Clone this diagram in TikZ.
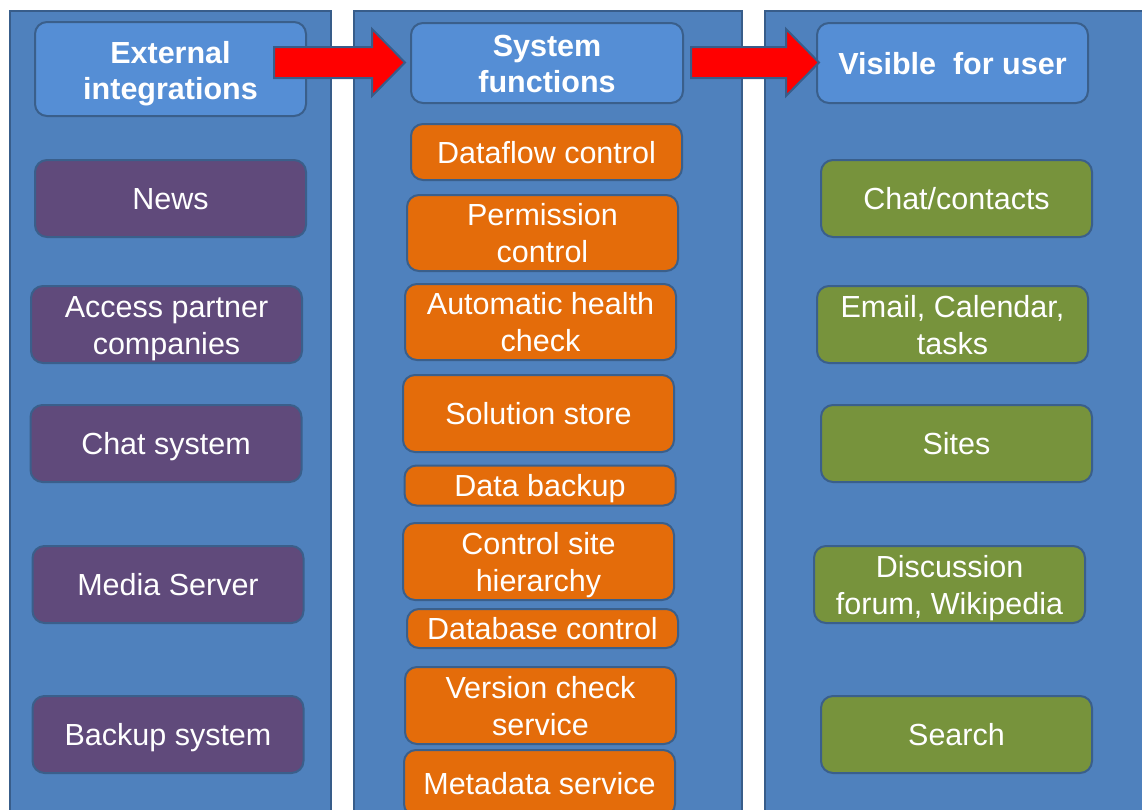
\documentclass[tikz,border=0pt]{standalone}
\usepackage{fontspec}
\setmainfont{Liberation Sans}
\usetikzlibrary{calc}
\definecolor{panelfill}{HTML}{4F81BD}
\definecolor{panelline}{HTML}{385D8A}
\definecolor{headfill}{HTML}{558ED5}
\definecolor{boxline}{HTML}{3A5F8B}
\definecolor{extc}{HTML}{604A7B}
\definecolor{sysc}{HTML}{E46C0A}
\definecolor{userc}{HTML}{77933C}
\definecolor{arrowred}{HTML}{FF0000}

% block arrow from a tail coordinate to a tip coordinate (same height)
\newcommand\blockarrowpath[2]{%
  \draw[barrow] ($(#1)+(0,-15.5)$) -- ($(#2)+(-33,-15.5)$) -- ($(#2)+(-33,-33.5)$)
    -- (#2) -- ($(#2)+(-33,33.5)$) -- ($(#2)+(-33,15.5)$) -- ($(#1)+(0,15.5)$) -- cycle;}

\begin{document}
\begin{tikzpicture}[x=1pt,y=-1pt,
  panel/.style={fill=panelfill,draw=panelline,line width=2pt},
  box/.style={draw=boxline,line width=2pt,rounded corners=12pt,text=white,
    align=center,minimum width=271pt,inner sep=0pt,
    font=\fontsize{30.5}{37}\selectfont,
    text height=22pt,text depth=0pt},
  twolines/.style={text height=59pt},
  head/.style={box,fill=headfill,font=\bfseries\fontsize{30.5}{36}\selectfont},
  ext/.style={box,fill=extc,minimum height=77pt},
  sys/.style={box,fill=sysc},
  usr/.style={box,fill=userc,minimum height=77pt},
  barrow/.style={fill=arrowred,draw=panelline,line width=2pt,line join=miter}]
\useasboundingbox (0,0) rectangle (1142,809);
\clip (0,0) rectangle (1142,809);
\fill[white] (0,0) rectangle (1142,809);

% three column panels
\draw[panel] (9.5,10.5) rectangle (331,840);
\draw[panel] (353.5,10.5) rectangle (742,840);
\draw[panel] (765,10.5) rectangle (1160,840);

% column headers
\node[head,text height=61pt,minimum width=271pt,minimum height=94pt] (ext) at (170.5,69) {External\\integrations};
\node[head,text height=58pt,minimum width=272pt,minimum height=80pt] (sys) at (547,63) {System\\functions};
\node[head,minimum width=271pt,minimum height=80pt] (vis) at (952.5,63) {Visible~~for user};

% external integrations
\node[ext] (news)   at (170.5,198.5) {News};
\node[ext,twolines] (access) at (166.5,324.5) {Access partner\\companies};
\node[ext] (chat)   at (166,443.5)   {Chat system};
\node[ext] (media)  at (168,584.5)   {Media Server};
\node[ext] (backup) at (168,734.5)   {Backup system};

% system functions
\node[sys,minimum height=56pt] (dataflow)   at (546.5,152)   {Dataflow control};
\node[sys,twolines,minimum height=76pt] (permission) at (542.5,233) {Permission\\control};
\node[sys,twolines,minimum height=76pt] (health)     at (540.5,322) {Automatic health\\check};
\node[sys,minimum height=77pt] (solution)   at (538.5,413.5) {Solution store};
\node[sys,minimum height=40pt] (databackup) at (540,485.5)   {Data backup};
\node[sys,twolines,minimum height=77pt] (sitehier) at (538.5,561.5) {Control site\\hierarchy};
\node[sys,minimum height=39pt] (database)   at (542.5,628.5) {Database control};
\node[sys,twolines,minimum height=77pt] (version)  at (540.5,705.5) {Version check\\service};
\node[sys,minimum height=66pt] (metadata)   at (539.5,783)   {Metadata service};

% visible for user
\node[usr] (contacts)   at (956.5,198.5) {Chat/contacts};
\node[usr,twolines] (email)      at (952.5,324.5) {Email, Calendar,\\tasks};
\node[usr] (sites)      at (956.5,443.5) {Sites};
\node[usr,twolines] (discussion) at (949.5,584.5) {Discussion\\forum, Wikipedia};
\node[usr] (search)     at (956.5,734.5) {Search};

% flow arrows between the headers
\coordinate (t1) at ($(ext.east)+(-33,-6.5)$);
\coordinate (h1) at ($(sys.west)+(-5,-0.5)$);
\coordinate (t2) at ($(sys.east)+(7,-0.5)$);
\coordinate (h2) at ($(vis.west)+(3,-0.5)$);
\blockarrowpath{t1}{h1}
\blockarrowpath{t2}{h2}
\end{tikzpicture}
\end{document}
